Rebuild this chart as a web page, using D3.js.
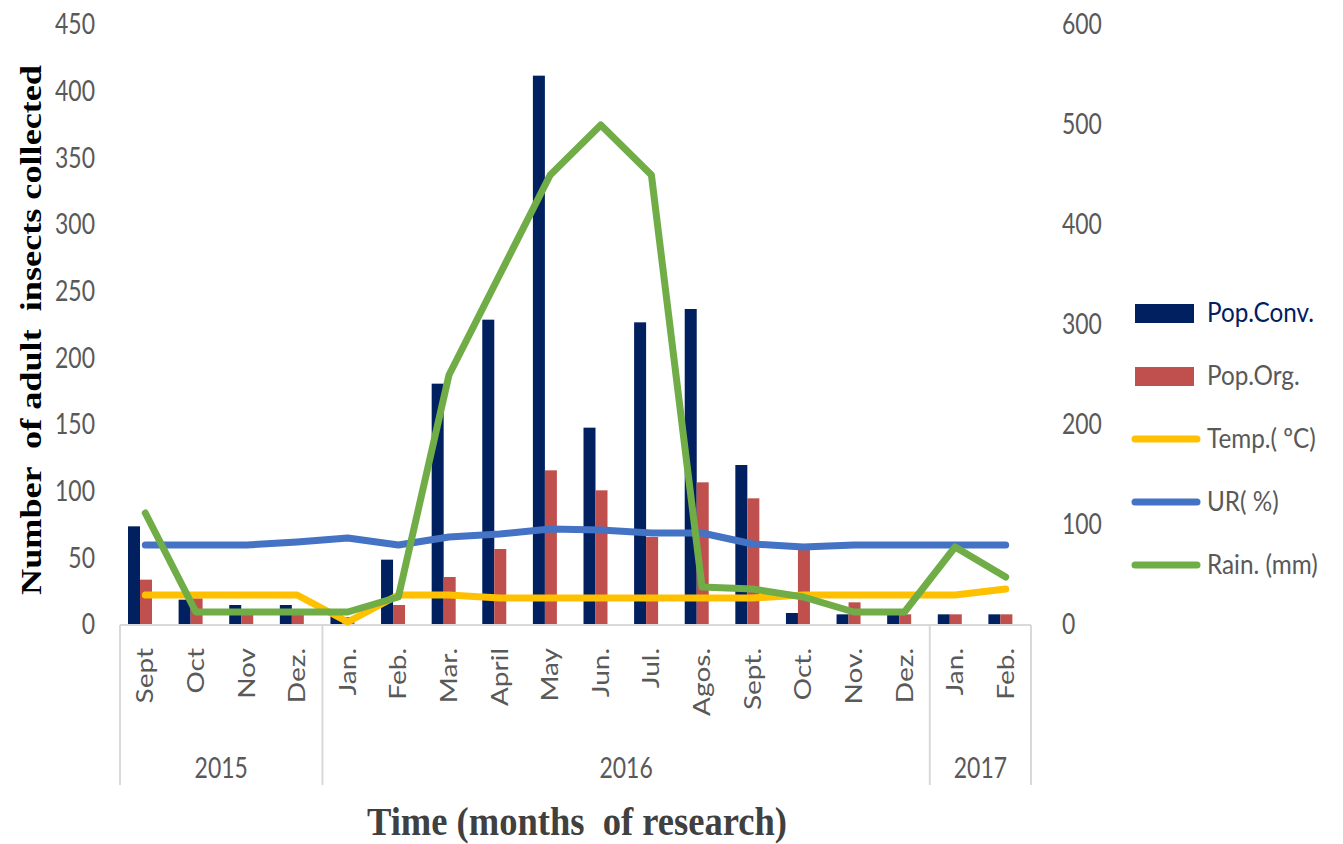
<!DOCTYPE html>
<html>
<head>
<meta charset="utf-8">
<script src="https://cdn.jsdelivr.net/npm/d3@7"></script>
<style>
  body { margin: 0; background: #fff; }
  svg { display: block; }
</style>
</head>
<body>
<main></main>
<script>
const months = ['Sept', 'Oct', 'Nov', 'Dez.', 'Jan.', 'Feb.', 'Mar.', 'April', 'May', 'Jun.',
  'Jul.', 'Agos.', 'Sept.', 'Oct.', 'Nov.', 'Dez.', 'Jan.', 'Feb.'];
const years = [
  { label: '2015', span: 4 },
  { label: '2016', span: 12 },
  { label: '2017', span: 2 }
];

const popConv = [74, 19, 15, 15, 8, 49, 181, 229, 412, 148, 227, 237, 120, 9, 8, 8, 8, 8];
const popOrg = [34, 20, 10, 10, 6, 15, 36, 57, 116, 101, 66, 107, 95, 57, 17, 8, 8, 8];
const temp = [30, 30, 30, 30, 3, 30, 30, 27, 27, 27, 27, 27, 27, 30, 30, 30, 30, 36];
const humidity = [80, 80, 80, 83, 87, 80, 88, 91, 96, 95, 92, 92, 81, 78, 80, 80, 80, 80];
const rain = [112, 13, 13, 13, 13, 28, 250, 350, 450, 500, 450, 38, 36, 28, 13, 13, 78, 48];

const leftTicks = [0, 50, 100, 150, 200, 250, 300, 350, 400, 450];
const rightTicks = [0, 100, 200, 300, 400, 500, 600];

const width = 1343;
const height = 844;
const margin = { left: 120, right: 1031, top: 25, bottom: 625 };

const barSeries = [
  { key: 'conv', name: 'Pop.Conv.', values: popConv, color: '#002060', text: '#002060' },
  { key: 'org', name: 'Pop.Org.', values: popOrg, color: '#c0504d', text: '#595959' }
];
const lineSeries = [
  { key: 'temp', name: 'Temp.( ºC)', values: temp, color: '#ffc000' },
  { key: 'ur', name: 'UR( %)', values: humidity, color: '#4472c4' },
  { key: 'rain', name: 'Rain. (mm)', values: rain, color: '#70ad47' }
];

// the source text is tall and narrow, so squeeze Lato a bit
const tickFont = 'Lato, "Noto Sans", sans-serif';
const tickSize = '28px';
const squeeze = 0.82;
const grey = '#595959';
const axisGrey = '#d9d9d9';

const svg = d3.select('main')
  .append('svg')
  .attr('width', width)
  .attr('height', height)
  .style('background', '#fff');

// Scales
const x = d3.scaleBand()
  .domain(d3.range(months.length))
  .range([margin.left, margin.right]);

const inner = d3.scaleBand()
  .domain(barSeries.map(s => s.key))
  .range([8, 32]);

const yLeft = d3.scaleLinear().domain([0, 450]).range([margin.bottom, margin.top]);
const yRight = d3.scaleLinear().domain([0, 600]).range([margin.bottom, margin.top]);

// Left axis
const leftAxis = svg.append('g')
  .attr('transform', `translate(${margin.left - 25}, 0)`)
  .call(d3.axisLeft(yLeft).tickValues(leftTicks).tickSize(0).tickPadding(0))
leftAxis.select('.domain').remove();
leftAxis.selectAll('text')
  .attr('transform', `scale(${squeeze}, 1)`)
  .style('font-family', tickFont)
  .style('font-size', tickSize)
  .attr('fill', grey);

// Right axis
const rightAxis = svg.append('g')
  .attr('transform', 'translate(1062, 0)')
  .call(d3.axisRight(yRight).tickValues(rightTicks).tickSize(0).tickPadding(0))
rightAxis.select('.domain').remove();
rightAxis.selectAll('text')
  .attr('transform', `scale(${squeeze}, 1)`)
  .style('font-family', tickFont)
  .style('font-size', tickSize)
  .attr('fill', grey);

// Bars
barSeries.forEach(s => {
  svg.append('g')
    .selectAll('rect')
    .data(s.values)
    .enter()
    .append('rect')
    .attr('x', (d, i) => x(i) + inner(s.key))
    .attr('width', inner.bandwidth())
    .attr('y', d => yLeft(d))
    .attr('height', d => yLeft(0) - yLeft(d))
    .attr('fill', s.color);
});

// Category axis
const catAxis = svg.append('g');
catAxis.append('line')
  .attr('x1', margin.left).attr('x2', margin.right)
  .attr('y1', margin.bottom).attr('y2', margin.bottom)
  .attr('stroke', axisGrey).attr('stroke-width', 2);

let idx = 0;
const bounds = [0];
years.forEach(y => { idx += y.span; bounds.push(idx); });
const edge = i => i === months.length ? margin.right : x(i);

catAxis.selectAll('line.sep')
  .data(bounds)
  .enter()
  .append('line')
  .attr('class', 'sep')
  .attr('x1', d => edge(d))
  .attr('x2', d => edge(d))
  .attr('y1', margin.bottom)
  .attr('y2', 785)
  .attr('stroke', axisGrey)
  .attr('stroke-width', 2);

catAxis.selectAll('text.month')
  .data(months)
  .enter()
  .append('text')
  .attr('class', 'month')
  .attr('transform', (d, i) => `translate(${x(i) + x.bandwidth() / 2}, 648) rotate(-90) scale(1, ${squeeze})`)
  .attr('dy', '0.35em')
  .attr('text-anchor', 'end')
  .style('font-family', tickFont)
  .style('font-size', tickSize)
  .attr('fill', grey)
  .text(d => d);

catAxis.selectAll('text.year')
  .data(years)
  .enter()
  .append('text')
  .attr('class', 'year')
  .attr('transform', (d, i) => `translate(${(edge(bounds[i]) + edge(bounds[i + 1])) / 2}, 768) scale(${squeeze}, 1)`)
  .attr('dy', '0.35em')
  .attr('text-anchor', 'middle')
  .style('font-family', tickFont)
  .style('font-size', tickSize)
  .attr('fill', grey)
  .text(d => d.label);

// Lines
const line = d3.line()
  .x((d, i) => x(i) + x.bandwidth() / 2)
  .y(d => yRight(d));

lineSeries.forEach(s => {
  svg.append('path')
    .datum(s.values)
    .attr('d', line)
    .attr('fill', 'none')
    .attr('stroke', s.color)
    .attr('stroke-width', 7)
    .attr('stroke-linejoin', 'round')
    .attr('stroke-linecap', 'round');
});

// Legend
const legendItems = barSeries.map(s => ({ ...s, type: 'bar' }))
  .concat(lineSeries.map(s => ({ ...s, type: 'line', text: grey })));

const legend = svg.append('g')
  .selectAll('g')
  .data(legendItems)
  .enter()
  .append('g')
  .attr('transform', (d, i) => `translate(1135, ${313 + i * 63})`);

legend.filter(d => d.type === 'bar')
  .append('rect')
  .attr('x', 0).attr('y', -9)
  .attr('width', 59).attr('height', 19)
  .attr('fill', d => d.color);

legend.filter(d => d.type === 'line')
  .append('line')
  .attr('x1', 0).attr('x2', 62)
  .attr('y1', 0).attr('y2', 0)
  .attr('stroke', d => d.color)
  .attr('stroke-width', 7)
  .attr('stroke-linecap', 'round');

legend.append('text')
  .attr('transform', 'translate(72, 0) scale(0.9, 1)')
  .attr('dy', '0.35em')
  .style('font-family', tickFont)
  .style('font-size', '27px')
  .attr('fill', d => d.text)
  .text(d => d.name);

// Axis titles
svg.append('text')
  .attr('transform', 'translate(41, 330) rotate(-90)')
  .attr('text-anchor', 'middle')
  .attr('textLength', 530)
  .attr('lengthAdjust', 'spacingAndGlyphs')
  .style('white-space', 'pre')
  .style('font-family', '"Liberation Serif", "Times New Roman", serif')
  .style('font-weight', 700)
  .style('font-size', '30px')
  .attr('fill', '#000')
  .text('Number  of adult  insects collected');

svg.append('text')
  .attr('x', 577)
  .attr('y', 835)
  .attr('text-anchor', 'middle')
  .attr('textLength', 420)
  .attr('lengthAdjust', 'spacingAndGlyphs')
  .style('white-space', 'pre')
  .style('font-family', '"Liberation Serif", "Times New Roman", serif')
  .style('font-weight', 700)
  .style('font-size', '40px')
  .attr('fill', '#404040')
  .text('Time (months  of research)');
</script>
</body>
</html>
